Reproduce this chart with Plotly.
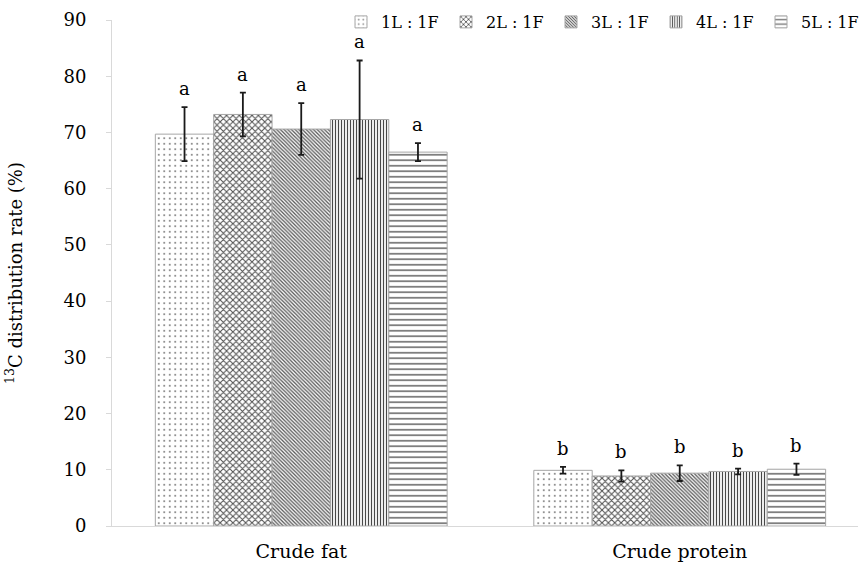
import plotly.graph_objects as go

categories = ["Crude fat", "Crude protein"]
series_names = ["1L : 1F", "2L : 1F", "3L : 1F", "4L : 1F", "5L : 1F"]
values = {
    "1L : 1F": [69.7, 9.9],
    "2L : 1F": [73.2, 8.9],
    "3L : 1F": [70.6, 9.4],
    "4L : 1F": [72.3, 9.7],
    "5L : 1F": [66.5, 10.1],
}
errors = {
    "1L : 1F": [4.8, 0.6],
    "2L : 1F": [3.9, 1.0],
    "3L : 1F": [4.6, 1.4],
    "4L : 1F": [10.5, 0.5],
    "5L : 1F": [1.6, 1.0],
}
letters = {
    "1L : 1F": ["a", "b"],
    "2L : 1F": ["a", "b"],
    "3L : 1F": ["a", "b"],
    "4L : 1F": ["a", "b"],
    "5L : 1F": ["a", "b"],
}
y_ticks = [0, 10, 20, 30, 40, 50, 60, 70, 80, 90]

shapes = [".", "x", "\\", "|", "-"]
sizes = [5.5, 4.5, 2.6, 3, 5.5]
solid = [0.1, 0.4, 0.5, 0.4, 0.3]
fgcols = ["#777777", "#505050", "#5a5a5a", "#484848", "#707070"]

FONT = "DejaVu Serif"
bargap = 0.229
x_pos = list(range(len(categories)))

fig = go.Figure()
for i, name in enumerate(series_names):
    fig.add_trace(go.Bar(
        name=name,
        x=x_pos,
        y=values[name],
        marker=dict(
            color="white",
            line=dict(color="#a6a6a6", width=1),
            pattern=dict(shape=shapes[i], fgcolor=fgcols[i], bgcolor="white",
                         size=sizes[i], solidity=solid[i], fillmode="replace",
                         fgopacity=1),
        ),
        error_y=dict(type="data", array=errors[name], visible=True,
                     color="#1a1a1a", thickness=1.8, width=3),
    ))

n = len(series_names)
w = (1 - bargap) / n
annotations = []
for i, name in enumerate(series_names):
    for c in range(len(categories)):
        annotations.append(dict(
            x=c + (i - (n - 1) / 2) * w,
            y=values[name][c] + errors[name][c],
            xref="x", yref="y",
            text=letters[name][c],
            showarrow=False,
            yanchor="bottom",
            yshift=6,
            font=dict(family=FONT, size=18, color="black"),
        ))

fig.update_layout(
    width=859, height=565,
    margin=dict(l=112, r=1, t=20, b=39, autoexpand=False),
    paper_bgcolor="white", plot_bgcolor="white",
    barmode="group", bargap=bargap, bargroupgap=0,
    font=dict(family=FONT, color="black"),
    annotations=annotations,
    legend=dict(
        orientation="h",
        xref="container", yref="container",
        x=341 / 859, y=1 - 22 / 565, xanchor="left", yanchor="middle",
        font=dict(family=FONT, size=16, color="black"),
        entrywidth=60, entrywidthmode="pixels",
        bgcolor="rgba(0,0,0,0)",
    ),
    xaxis=dict(
        tickvals=x_pos, ticktext=categories,
        range=[-0.5, 1.471],
        showline=True, linecolor="#d9d9d9", linewidth=1,
        ticks="", showgrid=False, zeroline=False,
        tickfont=dict(family=FONT, size=19, color="black"),
        ticklabelstandoff=8, automargin=False,
    ),
    yaxis=dict(
        range=[0, 90], tickvals=y_ticks,
        showline=True, linecolor="#d9d9d9", linewidth=1,
        ticks="outside", ticklen=5, tickcolor="#d9d9d9",
        showgrid=False, zeroline=False,
        tickfont=dict(family=FONT, size=18, color="black"),
        ticklabelstandoff=16, automargin=False,
        title=dict(text="<sup>13</sup>C distribution rate (%)",
                   font=dict(family=FONT, size=18, color="black"),
                   standoff=36),
    ),
)

fig.write_html(
    "out.html",
    config={"displayModeBar": False},
    post_script="document.body.style.margin='0';document.body.style.padding='0';",
)
